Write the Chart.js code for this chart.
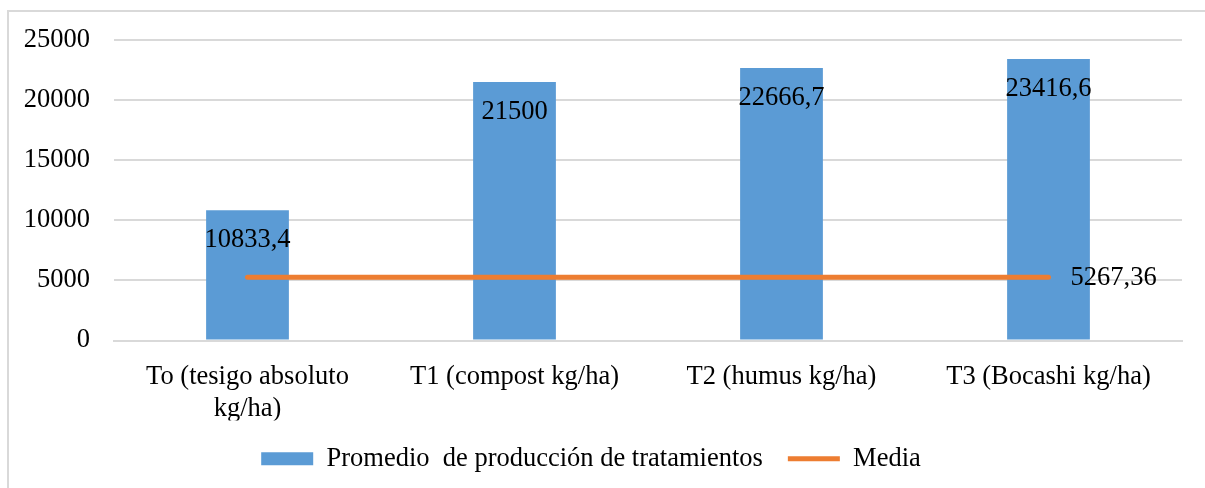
<!DOCTYPE html>
<html>
<head>
<meta charset="utf-8">
<script src="https://cdn.jsdelivr.net/npm/chart.js@4/dist/chart.umd.min.js"></script>
<style>
  html, body { margin: 0; padding: 0; background: #fff; }
  #wrap { position: relative; width: 1205px; height: 488px; overflow: hidden; }
  #frame { position: absolute; left: 7px; top: 10px; width: 1300px; height: 600px;
           border-left: 2px solid #d9d9d9; border-top: 2px solid #d9d9d9; }
  #chart { position: absolute; left: 0; top: 0; }
</style>
</head>
<body>
<div id="wrap">
  <div id="frame"></div>
  <canvas id="chart" width="1205" height="488"></canvas>
</div>
<script>
// categories on the x axis
const categories = [
  ['To (tesigo absoluto', 'kg/ha)'],
  'T1 (compost kg/ha)',
  'T2 (humus kg/ha)',
  'T3 (Bocashi kg/ha)'
];
// average production per treatment
const promedio = [10833.4, 21500, 22666.7, 23416.6];
// overall mean line
const media = [5267.36, 5267.36, 5267.36, 5267.36];
// y axis ticks
const yMax = 25000;
const yStep = 5000;

const FONT = '"Liberation Serif", "Times New Roman", serif';
const FS = 26.5;
const fmt = v => String(v).replace('.', ',');

// draws the value labels (inside top of bars, right of the last line point)
const valueLabels = {
  id: 'valueLabels',
  afterDatasetsDraw(chart) {
    const ctx = chart.ctx;
    ctx.save();
    ctx.font = FS + 'px ' + FONT;
    ctx.fillStyle = '#000';
    ctx.textBaseline = 'middle';
    const bars = chart.getDatasetMeta(0);
    bars.data.forEach((el, i) => {
      ctx.textAlign = 'center';
      ctx.fillText(fmt(promedio[i]), el.x, el.y + 30);
    });
    const line = chart.getDatasetMeta(1);
    const last = line.data[line.data.length - 1];
    ctx.textAlign = 'left';
    ctx.fillText(fmt(media[media.length - 1]), last.x + 22, last.y + 1);
    ctx.restore();
  }
};

const CHART = document.getElementById('chart');
new Chart(CHART, {
  type: 'bar',
  data: {
    labels: categories,
    datasets: [{
      label: 'Promedio  de producción de tratamientos',
      data: promedio,
      backgroundColor: '#5b9bd5',
      borderWidth: 0,
      categoryPercentage: 1,
      barPercentage: 0.31,
      pointStyle: 'rect',
      order: 1
    }, {
      type: 'line',
      label: 'Media',
      data: media,
      borderColor: '#ed7d31',
      backgroundColor: '#ed7d31',
      borderWidth: 5,
      borderCapStyle: 'round',
      pointRadius: 0,
      pointStyle: 'line',
      order: 0
    }]
  },
  options: {
    responsive: false,
    animation: false,
    layout: { padding: { top: 39, right: 23, left: 0, bottom: 6 } },
    plugins: {
      tooltip: { enabled: false },
      legend: {
        position: 'bottom',
        labels: {
          font: { family: FONT, size: FS },
          color: '#000',
          usePointStyle: true,
          pointStyleWidth: 52,
          boxHeight: 13,
          padding: 25,
          sort: (a, b) => a.datasetIndex - b.datasetIndex
        }
      }
    },
    scales: {
      x: {
        grid: { display: false, drawTicks: false },
        border: { color: '#d9d9d9', width: 2 },
        ticks: { font: { family: FONT, size: FS }, color: '#000', padding: 21, maxRotation: 0 },
        afterFit: s => { s.height = 80; }
      },
      y: {
        min: 0,
        max: yMax,
        grid: { color: '#d9d9d9', lineWidth: 2, drawTicks: false },
        border: { display: false },
        ticks: { stepSize: yStep, font: { family: FONT, size: FS }, color: '#000', padding: 24,
                 callback: v => String(v) },
        afterFit: s => { s.width = 114; }
      }
    }
  },
  plugins: [valueLabels]
});
</script>
</body>
</html>
